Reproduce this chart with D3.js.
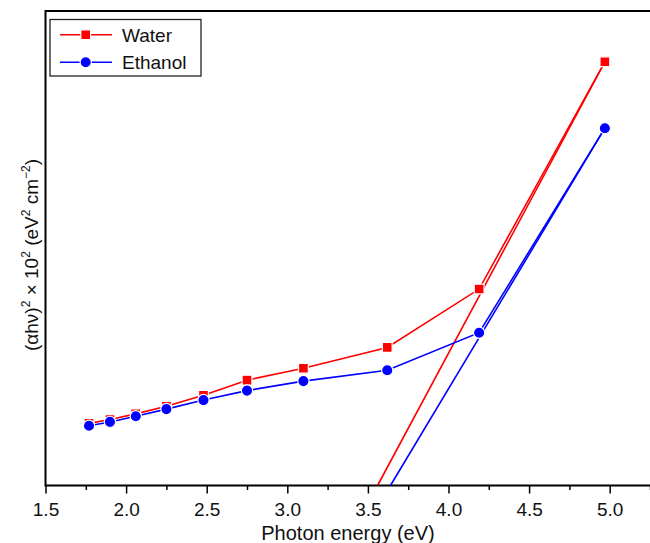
<!DOCTYPE html>
<html>
<head>
<meta charset="utf-8">
<script src="https://cdn.jsdelivr.net/npm/d3@7"></script>
<style>
  body { margin: 0; background: #fff; }
  svg { font-family: "Liberation Sans", Arial, sans-serif; }
</style>
</head>
<body>
<div id="chart"></div>
<script>
// data
const energy = [1.77, 1.90, 2.06, 2.25, 2.48, 2.75, 3.10, 3.62, 4.19, 4.97];
const water = [13.1, 13.9, 15.1, 16.7, 19.0, 22.2, 24.7, 29.1, 41.4, 89.3];
const ethanol = [12.6, 13.4, 14.6, 16.1, 18.0, 20.0, 22.0, 24.3, 32.2, 75.3];
// extrapolated straight lines (Tauc fit)
const waterFitE = [3.56, 4.97];
const waterFitY = [0, 89.3];
const ethanolFitE = [3.64, 4.97];
const ethanolFitY = [0, 75.3];
const majorTicks = [1.5, 2.0, 2.5, 3.0, 3.5, 4.0, 4.5, 5.0];
const minorTicks = [1.75, 2.25, 2.75, 3.25, 3.75, 4.25, 4.75, 5.25];

const W = 650, H = 543;
const mLeft = 45.5, mTop = 11, mBottom = 485.5;

var svg = d3.select("#chart").append("svg")
  .attr("width", W).attr("height", H);

var x = d3.scaleLinear().domain([1.5, 5.3]).range([mLeft, mLeft + 3.8 * 161.2]);
var y = d3.scaleLinear().domain([0, 100]).range([mBottom, mTop]);

svg.append("clipPath").attr("id", "clip")
  .append("rect").attr("x", mLeft).attr("y", mTop)
  .attr("width", W - mLeft).attr("height", mBottom - mTop);

// minor ticks
svg.append("g")
  .attr("transform", "translate(0," + mBottom + ")")
  .call(d3.axisBottom(x).tickValues(minorTicks).tickSize(4.5).tickFormat(""))
  .call(g => g.select(".domain").remove())
  .selectAll("line").attr("stroke", "#000").attr("stroke-width", 1.5);

// major ticks + labels
var xAxis = svg.append("g")
  .attr("transform", "translate(0," + mBottom + ")")
  .call(d3.axisBottom(x).tickValues(majorTicks).tickSize(8).tickPadding(9).tickFormat(d3.format(".1f")));
xAxis.select(".domain").remove();
xAxis.selectAll("line").attr("stroke", "#000").attr("stroke-width", 1.5);
xAxis.selectAll("text")
  .attr("fill", "#111")
  .style("font-size", "19px")
  .style("font-family", "Liberation Sans, Arial, sans-serif");

// frame (right side runs off the picture)
svg.append("path")
  .attr("d", "M" + (W + 20) + "," + mTop + "H" + mLeft + "V" + mBottom + "H" + (W + 20))
  .attr("fill", "none").attr("stroke", "#000").attr("stroke-width", 2);

var plot = svg.append("g").attr("clip-path", "url(#clip)");

function drawSeries(vals, fitE, fitY, color, shape) {
  var pts = energy.map((e, i) => [e, vals[i]]);
  var fit = fitE.map((e, i) => [e, fitY[i]]);
  var line = d3.line().x(d => x(d[0])).y(d => y(d[1]));
  plot.append("path").datum(fit).attr("d", line)
    .attr("fill", "none").attr("stroke", color).attr("stroke-width", 1.6);
  plot.append("path").datum(pts).attr("d", line)
    .attr("fill", "none").attr("stroke", color).attr("stroke-width", 1.6);
  var sym = d3.symbol().type(shape).size(shape === d3.symbolSquare ? 96 : 100);
  plot.selectAll(null).data(pts).enter().append("path")
    .attr("transform", d => "translate(" + x(d[0]) + "," + y(d[1]) + ")")
    .attr("d", sym)
    .attr("fill", color)
    .attr("stroke", "#fff").attr("stroke-width", 1.2);
}
drawSeries(water, waterFitE, waterFitY, "#ff0000", d3.symbolSquare);
drawSeries(ethanol, ethanolFitE, ethanolFitY, "#0000ff", d3.symbolCircle);

// legend
var lg = svg.append("g");
lg.append("rect").attr("x", 50).attr("y", 19.5).attr("width", 151).attr("height", 56.5)
  .attr("fill", "#fff").attr("stroke", "#222").attr("stroke-width", 1.3);
var legendItems = [
  { name: "Water", color: "#ff0000", shape: d3.symbolSquare, y: 34.7 },
  { name: "Ethanol", color: "#0000ff", shape: d3.symbolCircle, y: 62.3 }
];
legendItems.forEach(it => {
  lg.append("line").attr("x1", 60).attr("x2", 112).attr("y1", it.y).attr("y2", it.y)
    .attr("stroke", it.color).attr("stroke-width", 1.6);
  lg.append("path").attr("transform", "translate(85.7," + it.y + ")")
    .attr("d", d3.symbol().type(it.shape).size(it.shape === d3.symbolSquare ? 96 : 100))
    .attr("fill", it.color).attr("stroke", "#fff").attr("stroke-width", 1.2);
  lg.append("text").attr("x", 122).attr("y", it.y + 7)
    .style("font-size", "19px").attr("fill", "#111").text(it.name);
});

// x axis title
svg.append("text")
  .attr("x", 348).attr("y", 540)
  .attr("text-anchor", "middle")
  .style("font-size", "20px").attr("fill", "#111")
  .text("Photon energy (eV)");

// y axis title with superscripts
var yt = svg.append("text")
  .attr("transform", "translate(38,255) rotate(-90)")
  .attr("text-anchor", "middle")
  .style("font-size", "19px").attr("fill", "#111");
var parts = [
  ["(\u03b1h\u03bd)", 0], ["2", 1], [" \u00d7 10", 0], ["2", 1],
  [" (eV", 0], ["2", 1], [" cm", 0], ["\u22122", 1], [")", 0]
];
var lvl = 0;
parts.forEach(p => {
  var dy = (p[1] - lvl) * -8;
  lvl = p[1];
  yt.append("tspan").attr("dy", dy)
    .style("font-size", p[1] ? "12px" : "19px")
    .text(p[0]);
});
</script>
</body>
</html>
